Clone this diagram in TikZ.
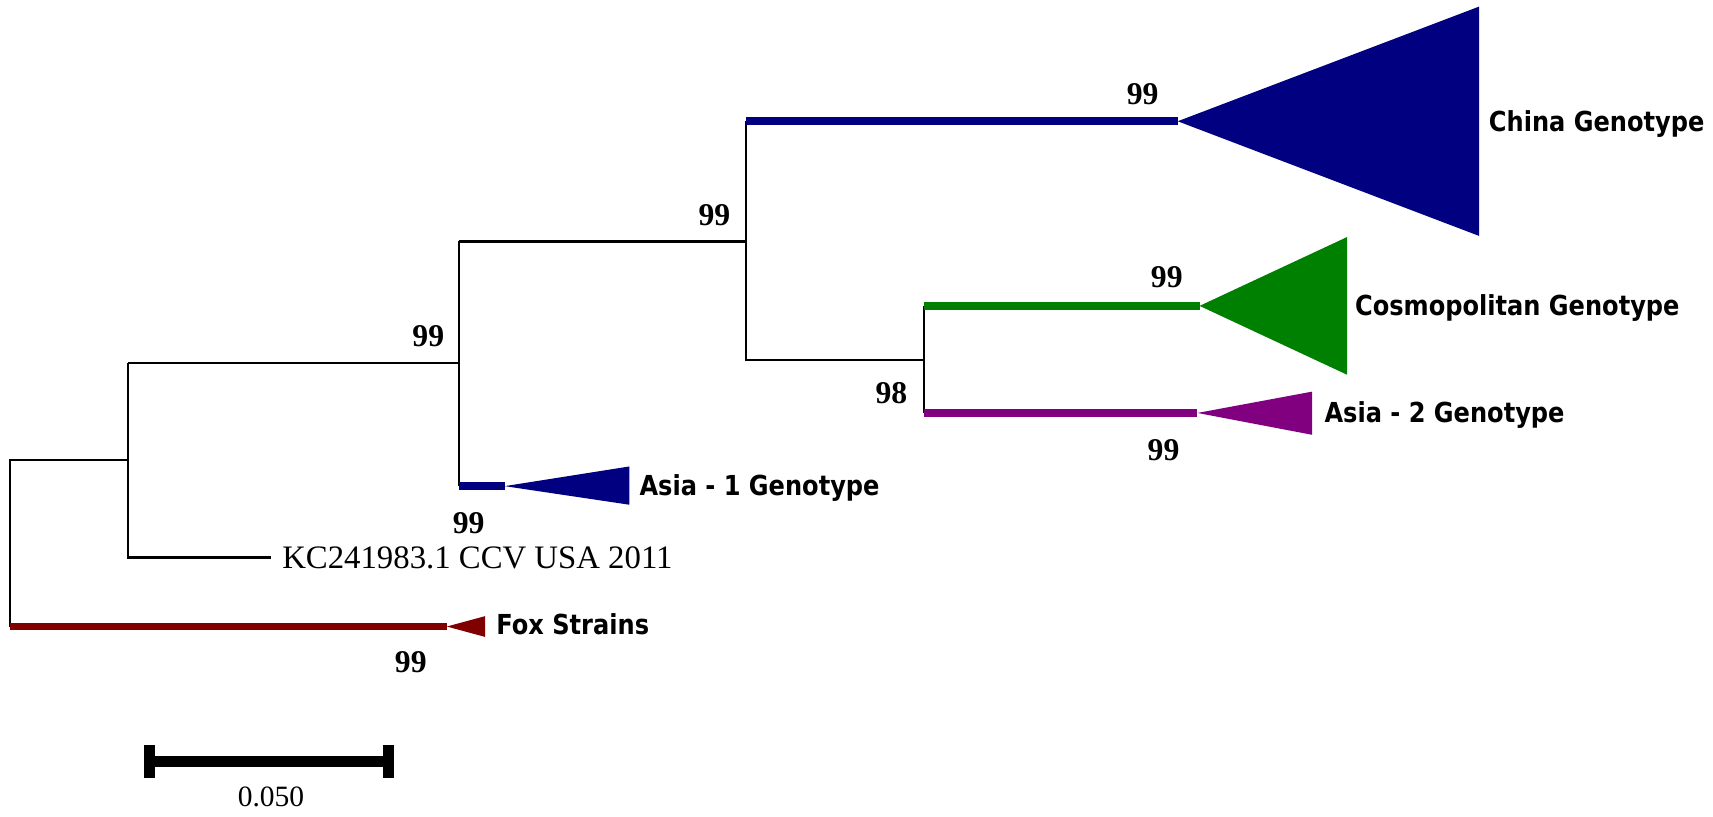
\documentclass[tikz,border=0pt]{standalone}
\usepackage{fontspec}
\setmainfont{Liberation Serif}
\newfontfamily\cladefont[FakeStretch=0.875]{DejaVu Sans}
\usetikzlibrary{calc}
\definecolor{chinablue}{RGB}{0,0,128}
\definecolor{cosmogreen}{RGB}{0,128,0}
\definecolor{asiapurple}{RGB}{128,0,128}
\definecolor{foxred}{RGB}{128,0,0}
\tikzset{
  branch/.style={line width=1pt},
  clade/.style={line width=3.6pt},
  boot/.style={inner sep=0pt, font=\fontsize{14.5}{16}\selectfont\bfseries},
  genotype/.style={anchor=base west, inner sep=0pt, font=\cladefont\fontsize{12.6}{15}\selectfont\bfseries},
}

\begin{document}
\begin{tikzpicture}[x=0.5pt,y=-0.5pt]
\useasboundingbox (0,0) rectangle (1568,747);
\coordinate (root) at (9,421);
\coordinate (fox) at (9,573.5);
\coordinate (n1) at (117,421);
\coordinate (n1t) at (117,332.5);
\coordinate (n2) at (420,332.5);
\coordinate (n2t) at (420,221);
\coordinate (asia1) at (420,445);
\coordinate (n3) at (683,221);
\coordinate (china) at (683,111);
\coordinate (n3b) at (683,329.5);
\coordinate (n4) at (846,329.5);
\coordinate (cosmo) at (846,280);
\coordinate (asia2) at (846,378);
\coordinate (chinatip) at (1078,111);
\coordinate (cosmotip) at (1098,280);
\coordinate (asia2tip) at (1096,378);
\coordinate (asia1tip) at (462,445);
\coordinate (foxtip) at (409,573.5);
\node[anchor=base west, inner xsep=5pt, font=\fontsize{15}{18}\selectfont] (kc) at (248,520) {KC241983.1 CCV USA 2011};
\draw[branch] (fox) -- (root) -- (n1);
\draw[branch] (n1t) |- (kc.west);
\draw[branch] (n1t) -- (n2);
\draw[branch] (n2t) -- (asia1);
\draw[branch] (n2t) -- (n3);
\draw[branch] (china) -- (n3b) -- (n4);
\draw[branch] (cosmo) -- (asia2);
\draw[clade, chinablue] (china) -- (chinatip);
\fill[chinablue] (chinatip) -- (1354,6) -- (1354,216) -- cycle;
\draw[clade, cosmogreen] (cosmo) -- (cosmotip);
\fill[cosmogreen] (cosmotip) -- (1233,217) -- (1233,343) -- cycle;
\draw[clade, asiapurple] (asia2) -- (asia2tip);
\fill[asiapurple] (asia2tip) -- (1201,358.5) -- (1201,398) -- cycle;
\draw[clade, chinablue] (asia1) -- (asia1tip);
\fill[chinablue] (asia1tip) -- (576,427) -- (576,462) -- cycle;
\draw[clade, foxred] (fox) -- (foxtip);
\fill[foxred] (foxtip) -- (444,564) -- (444,583) -- cycle;
\node[genotype] (chinalab) at (1362.5,120.5) {China Genotype};
\node[genotype] (cosmolab) at (1240,289) {Cosmopolitan Genotype};
\node[genotype] (asia2lab) at (1212,387) {Asia - 2 Genotype};
\node[genotype] (asia1lab) at (585,454) {Asia - 1 Genotype};
\node[genotype] (foxlab) at (454,581) {Fox Strains};
\node[boot] (b1) at (392,308) {99};
\node[boot] (b2) at (654,197) {99};
\node[boot] (b3) at (429,478.5) {99};
\node[boot] (b4) at (1046,86) {99};
\node[boot] (b5) at (1068,254) {99};
\node[boot] (b6) at (816,360) {98};
\node[boot] (b7) at (1065,412) {99};
\node[boot] (b8) at (376,606) {99};
\coordinate (sbl) at (136.5,697);
\coordinate (sbr) at (356,697);
\draw[line width=5pt] (sbl) -- (sbr);
\draw[line width=5pt] ($(sbl)+(0,-15)$) -- ($(sbl)+(0,15)$);
\draw[line width=5pt] ($(sbr)+(0,-15)$) -- ($(sbr)+(0,15)$);
\node[font=\fontsize{13.5}{16}\selectfont] (sblab) at (248,729.5) {0.050};
\end{tikzpicture}
\end{document}
